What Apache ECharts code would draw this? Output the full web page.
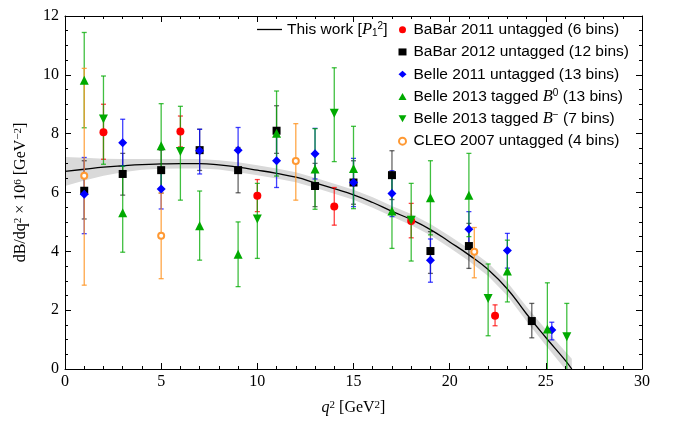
<!DOCTYPE html>
<html>
<head>
<meta charset="utf-8">
<script src="https://cdn.jsdelivr.net/npm/echarts@6/dist/echarts.min.js"></script>
<style>
html, body { margin: 0; padding: 0; background: #fff; }
#main { width: 675px; height: 422px; }
</style>
</head>
<body>
<div id="main"></div>
<script>
// dB/dq^2 x 10^6 per q^2 bin, with lower / upper end of the error bar

// BaBar 2011 untagged (6 bins)
var babar11Q  = [2, 6, 10, 14, 18, 22.36];
var babar11Y  = [8.05, 8.07, 5.89, 5.52, 5.03, 1.81];
var babar11Lo = [7.13, 7.55, 5.35, 4.89, 4.46, 1.47];
var babar11Hi = [9.00, 8.60, 6.44, 6.17, 5.63, 2.18];

// BaBar 2012 untagged (12 bins)
var babar12Q  = [1, 3, 5, 7, 9, 11, 13, 15, 17, 19, 21, 24.27];
var babar12Y  = [6.06, 6.63, 6.76, 7.44, 6.76, 8.10, 6.22, 6.34, 6.59, 4.01, 4.18, 1.63];
var babar12Lo = [5.10, 5.91, 5.98, 6.75, 5.99, 7.33, 5.52, 5.60, 5.76, 3.25, 3.42, 1.06];
var babar12Hi = [7.08, 7.33, 7.44, 8.15, 7.53, 8.95, 6.99, 7.08, 7.42, 4.67, 4.95, 2.23];

// Belle 2011 untagged (13 bins)
var belle11Q  = [1, 3, 5, 7, 9, 11, 13, 15, 17, 19, 21, 23, 25.31];
var belle11Y  = [5.94, 7.69, 6.12, 7.42, 7.44, 7.08, 7.32, 6.34, 5.97, 3.70, 4.75, 4.03, 1.33];
var belle11Lo = [4.60, 6.90, 5.44, 6.63, 6.67, 6.17, 6.46, 5.52, 5.18, 2.95, 4.15, 3.43, 0.99];
var belle11Hi = [7.19, 8.49, 6.80, 8.15, 8.21, 7.99, 8.18, 7.16, 6.74, 4.42, 5.35, 4.61, 1.59];

// Belle 2013 tagged B0 (13 bins)
var belleB0Q  = [1, 3, 5, 7, 9, 11, 13, 15, 17, 19, 21, 23, 25.08];
var belleB0Y  = [9.82, 5.31, 7.59, 4.87, 3.90, 8.01, 6.80, 6.82, 5.37, 5.82, 5.91, 3.33, 1.36];
var belleB0Lo = [8.20, 3.97, 6.16, 3.70, 2.80, 6.56, 5.43, 5.45, 4.10, 4.56, 4.50, 2.28, -0.2];
var belleB0Hi = [11.44, 6.90, 9.02, 6.05, 5.00, 9.45, 8.17, 8.25, 6.65, 7.08, 7.33, 4.38, 2.93];

// Belle 2013 tagged B- (7 bins)
var belleBmQ  = [2, 6, 10, 14, 18, 22, 26.09];
var belleBmY  = [8.50, 7.39, 5.10, 8.69, 5.06, 2.40, 1.10];
var belleBmLo = [6.96, 5.74, 3.76, 7.05, 3.67, 1.13, -0.1];
var belleBmHi = [9.96, 8.93, 6.31, 10.24, 6.31, 3.57, 2.23];

// CLEO 2007 untagged (4 bins)
var cleoQ  = [1, 5, 12, 21.28];
var cleoY  = [6.57, 4.53, 7.07, 3.99];
var cleoLo = [2.85, 3.07, 5.74, 3.10];
var cleoHi = [10.22, 5.98, 8.34, 4.81];

// This work [P_1^2]: central curve and its band
var curveQ  = [0, 1, 2, 3, 4, 5, 6, 7, 8, 9, 10, 11, 12, 13, 14, 15, 16, 17, 18, 19, 20, 21, 22, 23, 24, 25, 26, 26.35];
var curveY  = [6.72, 6.79, 6.86, 6.91, 6.95, 6.97, 6.98, 6.98, 6.94, 6.86, 6.76, 6.65, 6.52, 6.33, 6.13, 5.92, 5.66, 5.36, 5.08, 4.74, 4.32, 3.88, 3.38, 2.72, 1.87, 1.07, 0.30, 0];
var bandLo  = [6.22, 6.41, 6.57, 6.69, 6.77, 6.81, 6.82, 6.82, 6.78, 6.69, 6.59, 6.48, 6.35, 6.16, 5.96, 5.75, 5.48, 5.18, 4.89, 4.55, 4.12, 3.67, 3.16, 2.49, 1.62, 0.80, 0.00, 0];
var bandHi  = [7.21, 7.18, 7.15, 7.14, 7.14, 7.14, 7.14, 7.14, 7.10, 7.03, 6.93, 6.82, 6.69, 6.50, 6.30, 6.09, 5.84, 5.54, 5.27, 4.93, 4.52, 4.09, 3.60, 2.95, 2.12, 1.34, 0.60, 0.35];

var xTicks = [0, 5, 10, 15, 20, 25, 30];
var yTicks = [0, 2, 4, 6, 8, 10, 12];

var downTri = 'path://M0,0 L10,0 L5,9 Z';

var sets = [
  { name: 'BaBar 2011', q: babar11Q, y: babar11Y, lo: babar11Lo, hi: babar11Hi,
    color: '#ff0000', bar: 'rgba(255,0,0,0.75)', symbol: 'circle', size: 8 },
  { name: 'BaBar 2012', q: babar12Q, y: babar12Y, lo: babar12Lo, hi: babar12Hi,
    color: '#000000', bar: 'rgba(0,0,0,0.6)', symbol: 'rect', size: 8 },
  { name: 'Belle 2011', q: belle11Q, y: belle11Y, lo: belle11Lo, hi: belle11Hi,
    color: '#0000ff', bar: 'rgba(0,0,255,0.75)', symbol: 'diamond', size: [9, 9] },
  { name: 'Belle 2013 B0', q: belleB0Q, y: belleB0Y, lo: belleB0Lo, hi: belleB0Hi,
    color: '#00aa00', bar: 'rgba(0,170,0,0.75)', symbol: 'triangle', size: 9 },
  { name: 'Belle 2013 B-', q: belleBmQ, y: belleBmY, lo: belleBmLo, hi: belleBmHi,
    color: '#00aa00', bar: 'rgba(0,170,0,0.75)', symbol: downTri, size: 9 },
  { name: 'CLEO 2007', q: cleoQ, y: cleoY, lo: cleoLo, hi: cleoHi,
    color: '#ff9933', bar: 'rgba(255,150,40,0.85)', symbol: 'emptyCircle', size: 6 }
];

var legendText = {
  'BaBar 2011': 'BaBar 2011 untagged (6 bins)',
  'BaBar 2012': 'BaBar 2012 untagged (12 bins)',
  'Belle 2011': 'Belle 2011 untagged (13 bins)',
  'Belle 2013 B0': 'Belle 2013 tagged {i|B}{sup|0} (13 bins)',
  'Belle 2013 B-': 'Belle 2013 tagged {i|B}{sup|\u2212} (7 bins)',
  'CLEO 2007': 'CLEO 2007 untagged (4 bins)',
  'This work': 'This work [{i|P}{sub|1}{sup|2}]'
};

var errBars = function(color) {
  return function(params, api) {
    var q = api.value(0), lo = api.value(1), hi = api.value(2);
    var top = api.coord([q, hi]);
    var bot = api.coord([q, Math.max(lo, 0)]);
    var st = { stroke: color, lineWidth: 1.3 };
    var kids = [
      { type: 'line', shape: { x1: top[0], y1: top[1], x2: bot[0], y2: bot[1] }, style: st },
      { type: 'line', shape: { x1: top[0] - 2.5, y1: top[1], x2: top[0] + 2.5, y2: top[1] }, style: st }
    ];
    if (lo > 0) {
      kids.push({ type: 'line', shape: { x1: bot[0] - 2.5, y1: bot[1], x2: bot[0] + 2.5, y2: bot[1] }, style: st });
    }
    return { type: 'group', children: kids };
  };
};

var bandRender = function(params, api) {
  var pts = [];
  for (var i = 0; i < curveQ.length; i++) pts.push(api.coord([curveQ[i], bandHi[i]]));
  for (var j = curveQ.length - 1; j >= 0; j--) pts.push(api.coord([curveQ[j], bandLo[j]]));
  return { type: 'polygon', shape: { points: pts }, style: { fill: '#d9d9d9' } };
};

var series = [];

series.push({
  type: 'custom', name: 'band', renderItem: bandRender, data: [[0, 0]],
  z: 1, silent: true
});
series.push({
  type: 'line', name: 'This work', data: curveQ.map(function(q, i) { return [q, curveY[i]]; }),
  showSymbol: false, symbol: 'none', smooth: true, z: 2,
  lineStyle: { color: '#000', width: 1.3 }, itemStyle: { color: '#000' }
});

sets.forEach(function(s) {
  series.push({
    type: 'custom', name: s.name + ' err', renderItem: errBars(s.bar), z: 3, silent: true,
    encode: { x: 0, y: [1, 2] },
    data: s.q.map(function(q, i) { return [q, s.lo[i], s.hi[i]]; })
  });
});
sets.forEach(function(s) {
  series.push({
    type: 'scatter', name: s.name, symbol: s.symbol, symbolSize: s.size, z: 4,
    itemStyle: { color: s.color, opacity: 1, borderWidth: s.symbol === 'emptyCircle' ? 1.2 : 0 },
    data: s.q.map(function(q, i) { return [q, s.y[i]]; })
  });
});

var legendRich = {
  i: { fontFamily: 'Liberation Serif', fontStyle: 'italic', fontSize: 16.5 },
  sup: { fontSize: 10, verticalAlign: 'top', lineHeight: 12 },
  sub: { fontSize: 10, verticalAlign: 'bottom', lineHeight: 12 }
};

var titleRich = {
  i: { fontFamily: 'Liberation Serif', fontStyle: 'italic', fontSize: 16 },
  sup: { fontFamily: 'Liberation Serif', fontSize: 11, verticalAlign: 'top', lineHeight: 10 }
};

var option = {
  animation: false,
  backgroundColor: '#fff',
  grid: { left: 65, right: 33, top: 16, bottom: 53 },
  legend: [{
    data: [{ name: 'This work', icon: 'rect' }],
    left: 252, top: 16, itemWidth: 25, itemHeight: 1.3, itemGap: 0,
    formatter: function(n) { return legendText[n]; },
    textStyle: { fontFamily: 'Liberation Sans', fontSize: 15.5, color: '#000', rich: legendRich }
  }, {
    data: sets.map(function(s) { return s.name; }),
    orient: 'vertical', left: 393, top: 16, itemWidth: 8, itemHeight: 7, itemGap: 5,
    formatter: function(n) { return legendText[n]; },
    textStyle: { fontFamily: 'Liberation Sans', fontSize: 15.5, lineHeight: 17.3, color: '#000', rich: legendRich,
      padding: [0, 0, 0, 2] }
  }],
  xAxis: [{
    type: 'value', min: 0, max: 30, interval: 5, z: 5,
    name: '{i|q}{sup|2} [GeV{sup|2}]', nameLocation: 'middle', nameGap: 31,
    nameTextStyle: { fontFamily: 'Liberation Serif', fontSize: 16, color: '#000', rich: titleRich },
    axisLine: { lineStyle: { color: '#000', width: 1 } },
    axisTick: { inside: true, length: 6, lineStyle: { color: '#000' } },
    minorTick: { show: true, splitNumber: 5, length: 3, lineStyle: { color: '#000' } },
    axisLabel: { fontFamily: 'Liberation Serif', fontSize: 16, color: '#000', margin: 5,
      formatter: function(v) { return xTicks.indexOf(v) >= 0 ? String(v) : ''; } },
    splitLine: { show: false }
  }, {
    type: 'value', min: 0, max: 30, interval: 5, position: 'top', z: 5,
    axisLine: { onZero: false, lineStyle: { color: '#000', width: 1 } },
    axisTick: { inside: true, length: 6, lineStyle: { color: '#000' } },
    minorTick: { show: true, splitNumber: 5, length: 3, lineStyle: { color: '#000' } },
    axisLabel: { show: false }, splitLine: { show: false }
  }],
  yAxis: [{
    type: 'value', min: 0, max: 12, interval: 2, z: 5,
    name: 'dB/dq{sup|2} \u00d7 10{sup|6} [GeV{sup|\u22122}]', nameLocation: 'middle', nameGap: 36,
    nameTextStyle: { fontFamily: 'Liberation Serif', fontSize: 16, color: '#000', rich: titleRich },
    axisLine: { onZero: false, lineStyle: { color: '#000', width: 1 } },
    axisTick: { inside: true, length: 6, lineStyle: { color: '#000' } },
    minorTick: { show: true, splitNumber: 4, length: 3, lineStyle: { color: '#000' } },
    axisLabel: { fontFamily: 'Liberation Serif', fontSize: 16, color: '#000', margin: 6,
      formatter: function(v) { return yTicks.indexOf(v) >= 0 ? String(v) : ''; } },
    splitLine: { show: false }
  }, {
    type: 'value', min: 0, max: 12, interval: 2, position: 'right', z: 5,
    axisLine: { show: true, onZero: false, lineStyle: { color: '#000', width: 1 } },
    axisTick: { show: true, inside: true, length: 6, lineStyle: { color: '#000' } },
    minorTick: { show: true, splitNumber: 4, length: 3, lineStyle: { color: '#000' } },
    axisLabel: { show: false }, splitLine: { show: false }
  }],
  series: series
};

var chart = echarts.init(document.getElementById('main'));
chart.setOption(option);
</script>
</body>
</html>
